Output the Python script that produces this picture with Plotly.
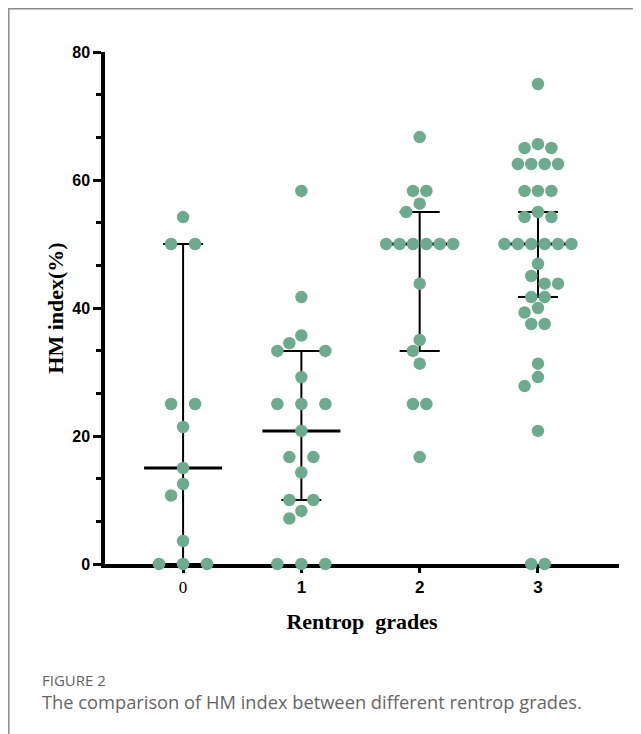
import plotly.graph_objects as go
import numpy as np

# ---------------- data ----------------
grades = ["0", "1", "2", "3"]
grade0 = [54.2, 50, 50, 25, 25, 21.4, 15, 12.5, 10.7, 3.6, 0, 0, 0]
grade1 = [58.3, 41.7, 35.7, 34.5, 33.3, 33.3, 29.2, 25, 25, 25, 20.8,
          16.7, 16.7, 14.3, 10, 10, 8.3, 7.1, 0, 0, 0]
grade2 = [66.7, 58.3, 58.3, 56.3, 55, 50, 50, 50, 50, 50, 50, 43.8,
          35, 33.3, 31.3, 25, 25, 16.7]
grade3 = [75, 65.6, 65, 65, 62.5, 62.5, 62.5, 62.5, 58.3, 58.3, 58.3,
          55, 54.2, 54.2, 50, 50, 50, 50, 50, 50, 46.9, 45, 43.8, 43.8,
          41.7, 41.7, 40, 39.3, 37.5, 37.5, 31.3, 29.2, 27.8, 20.8, 0, 0]
medians = [15, 20.8, 50, 50]
q1s = [0, 10, 33.3, 41.7]
q3s = [50, 33.3, 55, 55]
y_ticks = [0, 20, 40, 60, 80]

groups = [grade0, grade1, grade2, grade3]

# ---------------- layout constants ----------------
W, H = 641, 734
ML, MR, MT, MB = 97, 30, 44, 178
XR = [-0.66, 3.685]
YR = [0, 80]
plot_w = W - ML - MR
plot_h = H - MT - MB
px_x = plot_w / (XR[1] - XR[0])
px_y = plot_h / (YR[1] - YR[0])
DIAM = 12.5
SPACING = [24, 24, 13.4, 13.4]
GREEN = "#6dab8f"


def swarm(values, spacing):
    """Simple beeswarm: returns x offsets in slot units."""
    placed = []  # (slot, value)
    res = {}
    uniq = sorted(set(values), reverse=True)

    def ok(slots, v):
        for s in slots:
            for (ps, pv) in placed:
                d = np.hypot((s - ps) * spacing, (v - pv) * px_y)
                if d < DIAM - 0.2:
                    return False
        return True

    for v in uniq:
        n = values.count(v)
        compact = [k - (n - 1) / 2 for k in range(n)]
        cands = [compact]
        if n % 2 == 0:
            half = n // 2
            cands.append([-(half - k) for k in range(half)] + [k + 1 for k in range(half)])
        for step in range(1, 20):
            sh = step * 0.5
            cands.append([c - sh for c in compact])
            cands.append([c + sh for c in compact])
        chosen = compact
        for c in cands:
            if ok(c, v):
                chosen = c
                break
        for s in chosen:
            placed.append((s, v))
        res[v] = chosen
    out = []
    used = {}
    for v in values:
        i = used.get(v, 0)
        out.append(res[v][i])
        used[v] = i + 1
    return out


fig = go.Figure()

# median + interquartile range
med_half = 39 / px_x
cap_half = 20 / px_x
for i in range(len(groups)):
    fig.add_trace(go.Scatter(x=[i, i], y=[q1s[i], q3s[i]], mode="lines",
                             line=dict(color="black", width=2), hoverinfo="skip",
                             showlegend=False, cliponaxis=False))
    for q in (q1s[i], q3s[i]):
        fig.add_trace(go.Scatter(x=[i - cap_half, i + cap_half], y=[q, q], mode="lines",
                                 line=dict(color="black", width=2), hoverinfo="skip",
                                 showlegend=False, cliponaxis=False))
    fig.add_trace(go.Scatter(x=[i - med_half, i + med_half], y=[medians[i], medians[i]],
                             mode="lines", line=dict(color="black", width=3),
                             hoverinfo="skip", showlegend=False, cliponaxis=False))

# points
for i, vals in enumerate(groups):
    offs = swarm(vals, SPACING[i])
    xs = [i + o * SPACING[i] / px_x for o in offs]
    fig.add_trace(go.Scatter(x=xs, y=vals, mode="markers",
                             marker=dict(size=DIAM, color=GREEN, line=dict(width=0)),
                             showlegend=False, cliponaxis=False))

fig.update_layout(
    width=W, height=H,
    margin=dict(l=ML, r=MR, t=MT, b=MB),
    paper_bgcolor="white", plot_bgcolor="white",
    xaxis=dict(
        range=XR, tickmode="array", tickvals=list(range(len(grades))),
        ticktext=['<span style="font-family:\'Liberation Serif\';font-weight:normal">0</span>']
        + grades[1:],
        showline=True, linecolor="black", linewidth=3.5,
        ticks="outside", ticklen=5, tickwidth=3, tickcolor="black",
        tickfont=dict(family="Liberation Sans, Arial", size=17, color="black", weight="bold"),
        showgrid=False, zeroline=False, layer="below traces",
        title=dict(text="Rentrop  grades", standoff=18,
                   font=dict(family="Liberation Serif, Times New Roman", size=22,
                             color="black", weight="bold")),
    ),
    yaxis=dict(
        range=YR, tickmode="array", tickvals=y_ticks,
        showline=True, linecolor="black", linewidth=3.5,
        ticks="outside", ticklen=8, tickwidth=3, tickcolor="black",
        minor=dict(dtick=20 / 3, tick0=0, ticks="outside", ticklen=5, tickwidth=3,
                   tickcolor="black", showgrid=False),
        tickfont=dict(family="Liberation Sans, Arial", size=16, color="black", weight="bold"),
        showgrid=False, zeroline=False, layer="below traces",
        title=dict(text="HM index(%)", standoff=4,
                   font=dict(family="Liberation Serif, Times New Roman", size=22,
                             color="black", weight="bold")),
    ),
)

# outer frame
fig.add_shape(type="rect", xref="paper", yref="paper",
              x0=(0.8 - ML) / plot_w, x1=(W + 20 - ML) / plot_w,
              y0=(MT + plot_h - (H + 20)) / plot_h, y1=(MT + plot_h - 0.8) / plot_h,
              line=dict(color="#8a8a8a", width=1.5), fillcolor="rgba(0,0,0,0)", layer="below")

# caption
fig.add_annotation(xref="paper", yref="paper", x=(32 - ML) / plot_w,
                   y=(MT + plot_h - 672) / plot_h, xanchor="left", yanchor="middle",
                   text="FIGURE 2", showarrow=False,
                   font=dict(family="Open Sans, Noto Sans", size=15, color="#5f5f5f"))
fig.add_annotation(xref="paper", yref="paper", x=(32 - ML) / plot_w,
                   y=(MT + plot_h - 693) / plot_h, xanchor="left", yanchor="middle",
                   text="The comparison of HM index between different rentrop grades.",
                   showarrow=False,
                   font=dict(family="Open Sans, Noto Sans", size=18.3, color="#666666"))

fig.write_html("out.html")
